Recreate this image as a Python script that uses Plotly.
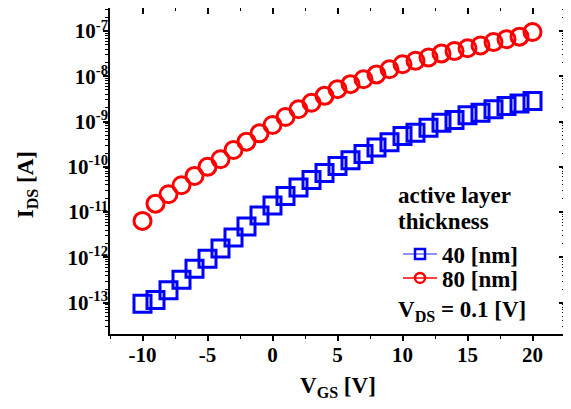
import plotly.graph_objects as go

vgs = list(range(-10, 21))
ids_40nm = [9.5e-14, 1.15e-13, 1.89e-13, 3.2e-13, 5.6e-13, 9.3e-13, 1.58e-12, 2.77e-12,
            4.8e-12, 8.45e-12, 1.41e-11, 2.28e-11, 3.5e-11, 5.1e-11, 7.3e-11, 1.05e-10,
            1.4e-10, 1.93e-10, 2.68e-10, 3.5e-10, 4.8e-10, 5.7e-10, 7.3e-10, 9.4e-10,
            1.08e-9, 1.38e-9, 1.57e-9, 1.87e-9, 2.2e-9, 2.5e-9, 2.85e-9]
ids_80nm = [6.4e-12, 1.54e-11, 2.48e-11, 3.93e-11, 6.3e-11, 1.0e-10, 1.47e-10, 2.36e-10,
            3.6e-10, 5.5e-10, 8.4e-10, 1.26e-9, 1.87e-9, 2.6e-9, 3.7e-9, 5.2e-9,
            6.7e-9, 8.6e-9, 1.1e-8, 1.43e-8, 1.84e-8, 2.2e-8, 2.6e-8, 3.2e-8,
            3.6e-8, 4.15e-8, 4.8e-8, 5.7e-8, 6.6e-8, 7.5e-8, 9.5e-8]
series_names = ["40 [nm]", "80 [nm]"]
x_ticks = [-10, -5, 0, 5, 10, 15, 20]
x_ticktext = ["%d" % v for v in x_ticks]
y_exps = [-13, -12, -11, -10, -9, -8, -7]
y_ticks = [10.0 ** e for e in y_exps]
y_ticktext = ["10<sup>%d</sup>" % e for e in y_exps]
y_minor = [k * 10.0 ** e for e in range(-14, -6) for k in range(2, 10)]
x_minor = [-12.5, -7.5, -2.5, 2.5, 7.5, 12.5, 17.5, 22.5]

FONT = "Liberation Serif"
BLUE = "#0000FF"
RED = "#FF0000"

fig = go.Figure()
fig.add_trace(go.Scatter(x=vgs, y=ids_40nm, mode="markers", showlegend=False,
                         marker=dict(symbol="square-open", size=17, color=BLUE,
                                     line=dict(width=3, color=BLUE))))
fig.add_trace(go.Scatter(x=vgs, y=ids_80nm, mode="markers", showlegend=False,
                         marker=dict(symbol="circle-open", size=17, color=RED,
                                     line=dict(width=3, color=RED))))
# legend entries
fig.add_trace(go.Scatter(x=[None], y=[None], mode="lines+markers", name=series_names[0],
                         legend="legend",
                         line=dict(color="#6a6aff", width=1.5),
                         marker=dict(symbol="square-open", size=10, color=BLUE,
                                     line=dict(width=2.5, color=BLUE))))
fig.add_trace(go.Scatter(x=[None], y=[None], mode="lines+markers", name=series_names[1],
                         legend="legend2",
                         line=dict(color=RED, width=1.5),
                         marker=dict(symbol="circle-open", size=10, color=RED,
                                     line=dict(width=2.5, color=RED))))
# helper trace for mirror axes
fig.add_trace(go.Scatter(x=[None], y=[None], xaxis="x2", yaxis="y2", showlegend=False,
                         hoverinfo="skip"))

XR = [-12.5, 22.5]
YR = [-13.691, -6.492]
common = dict(showline=True, linecolor="black", linewidth=1.5, showgrid=False,
              zeroline=False, tickcolor="black", tickwidth=1.5, automargin=False)
minor_out = dict(ticks="outside", ticklen=3, tickcolor="black", tickwidth=1.2)
minor_in = dict(ticks="inside", ticklen=3, tickcolor="black", tickwidth=1.2)
LEGFONT = dict(family=FONT, size=23, weight="bold", color="black")
legend_common = dict(xanchor="left", yanchor="middle", bgcolor="rgba(0,0,0,0)",
                     borderwidth=0, font=LEGFONT, itemwidth=34)

# page body has an 8px default margin: figure is sized so the plot lands where the reference has it
fig.update_layout(
    template="none",
    width=563, height=401,
    margin=dict(l=102, r=6, t=0, b=75, autoexpand=False),
    paper_bgcolor="white", plot_bgcolor="white",
    font=dict(family=FONT, color="black", size=21, weight="bold"),
    xaxis=dict(range=XR, tickvals=x_ticks, ticktext=x_ticktext, ticks="outside", ticklen=5,
               tickfont=dict(family=FONT, size=21, weight="bold"),
               minor=dict(tickvals=x_minor, **minor_out),
               ticklabelstandoff=-4, **common),
    yaxis=dict(type="log", range=YR, tickvals=y_ticks, ticktext=y_ticktext,
               ticks="outside", ticklen=5,
               tickfont=dict(family=FONT, size=21, weight="bold"),
               minor=dict(tickvals=y_minor, **minor_out),
               ticklabelstandoff=-9, **common),
    xaxis2=dict(range=XR, overlaying="x", side="top", anchor="y2", tickvals=x_ticks,
                ticks="inside", ticklen=6, showticklabels=False,
                minor=dict(tickvals=x_minor, **minor_in), **common),
    yaxis2=dict(type="log", range=YR, overlaying="y", side="right", anchor="x2",
                tickvals=y_ticks, ticks="inside", ticklen=6, showticklabels=False,
                minor=dict(tickvals=y_minor, **minor_in), **common),
    legend=dict(x=0.633, y=0.245, **legend_common),
    legend2=dict(x=0.633, y=0.172, **legend_common),
    annotations=[
        dict(text="I<sub>DS</sub> [A]", xref="paper", yref="paper", x=-0.182, y=0.457,
             textangle=-90, showarrow=False, xanchor="center", yanchor="middle",
             font=dict(family=FONT, size=23, weight="bold")),
        dict(text="V<sub>GS</sub> [V]", xref="paper", yref="paper", x=0.5, y=-0.115,
             showarrow=False, xanchor="center", yanchor="top",
             font=dict(family=FONT, size=23, weight="bold")),
        dict(text="active layer", xref="paper", yref="paper", x=0.629, y=0.425,
             showarrow=False, xanchor="left", yanchor="middle", font=LEGFONT),
        dict(text="thickness", xref="paper", yref="paper", x=0.629, y=0.344,
             showarrow=False, xanchor="left", yanchor="middle", font=LEGFONT),
        dict(text="V<sub>DS</sub> = 0.1 [V]", xref="paper", yref="paper", x=0.629, y=0.070,
             showarrow=False, xanchor="left", yanchor="middle", font=LEGFONT),
    ],
)

fig.write_html("out.html")
